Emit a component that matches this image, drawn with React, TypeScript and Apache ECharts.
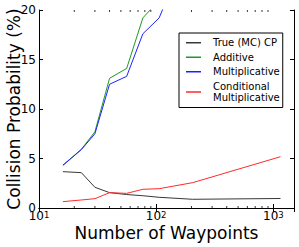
import React, { useEffect, useRef } from "react";
import * as echarts from "echarts";

const waypoints = [16, 23, 30, 40, 56, 77, 106, 205, 1150];
const trueCP = [3.67, 3.57, 2.09, 1.55, 1.36, 1.24, 1.08, 0.88, 0.96];
const additive = [4.34, 5.93, 7.7, 13.1, 14.1, 19.2, 21.0, null, null];
const multiplicative = [4.3, 5.9, 7.5, 12.5, 13.3, 17.6, 19.2, 27.4, null];
const conditional = [0.64, 0.81, 0.94, 1.55, 1.48, 1.89, 1.95, 2.56, 5.18];
const seriesNames = ["True (MC) CP", "Additive", "Multiplicative", "Conditional\nMultiplicative"];
const yTicks = [0, 5, 10, 15, 20];
const minorTicks = [20, 30, 40, 50, 60, 70, 80, 90, 200, 300, 400, 500, 600, 700, 800, 900];

const FONT = "DejaVu Sans";
const colors = ["#383838", "#1e9a1e", "#2020ff", "#ff2a2a"];

export default function App() {
  const ref = useRef<HTMLDivElement>(null);
  useEffect(() => {
    if (!ref.current) return;
    const chart = echarts.init(ref.current, null, { renderer: "svg" });
    const pair = (ys: (number | null)[]) =>
      waypoints.map((x, i) => (ys[i] == null ? [x, null] : [x, ys[i]]));
    const allY = [trueCP, additive, multiplicative, conditional];
    const expLabel = (v: number) => {
      const e = Math.round(Math.log10(v));
      if (Math.abs(Math.pow(10, e) - v) > 1e-6) return "";
      return "{b|10}{s|" + e + "}";
    };
    const axisCommon = {
      axisLine: { show: true, lineStyle: { color: "#000", width: 1 } },
      splitLine: { show: false },
    };
    chart.setOption({
      animation: false,
      textStyle: { fontFamily: FONT },
      grid: { left: 39, right: 5, top: 10, bottom: 39, outerBoundsMode: "none", containLabel: false },
      legend: {
        data: seriesNames,
        orient: "vertical",
        left: 179,
        top: 33,
        padding: [4, 3, 4, 7],
        itemGap: 3,
        itemWidth: 15,
        itemHeight: 1.5,
        icon: "rect",
        backgroundColor: "#fff",
        borderColor: "#000",
        borderWidth: 1,
        textStyle: { fontFamily: FONT, fontSize: 10, color: "#000", lineHeight: 11.5, padding: [0, 0, 0, 7] },
      },
      xAxis: [
        {
          type: "log",
          logBase: 10,
          min: 10,
          max: 1500,
          position: "bottom",
          name: "Number of Waypoints",
          nameLocation: "middle",
          nameGap: 16,
          nameMoveOverlap: false,
          nameTextStyle: { fontFamily: FONT, fontSize: 17, color: "#000", lineHeight: 17 },
          ...axisCommon,
          axisTick: { show: true, inside: true, length: 4, lineStyle: { color: "#000" } },
          axisLabel: {
            margin: 2,
            color: "#000",
            formatter: expLabel,
            rich: {
              b: { fontFamily: FONT, fontSize: 12, lineHeight: 12, verticalAlign: "bottom", color: "#000" },
              s: { fontFamily: FONT, fontSize: 8.5, lineHeight: 9, verticalAlign: "top", padding: [0, 0, 5, 0], color: "#000" },
            },
          },
        },
        {
          type: "log",
          logBase: 10,
          min: 10,
          max: 1500,
          position: "top",
          ...axisCommon,
          axisTick: { show: true, inside: true, length: 4, lineStyle: { color: "#000" } },
          axisLabel: { show: false },
        },
      ],
      yAxis: [
        {
          type: "value",
          min: 0,
          max: 20,
          interval: 5,
          position: "left",
          name: "Collision Probability (%)",
          nameLocation: "middle",
          nameGap: 17,
          nameMoveOverlap: false,
          nameTextStyle: { fontFamily: FONT, fontSize: 17, color: "#000" },
          ...axisCommon,
          axisTick: { show: true, inside: true, length: 4, lineStyle: { color: "#000" } },
          axisLabel: { margin: 3, color: "#000", fontFamily: FONT, fontSize: 12, lineHeight: 10, formatter: (v: number) => (yTicks.includes(v) ? String(v) : "") },
        },
        {
          type: "value",
          min: 0,
          max: 20,
          interval: 5,
          position: "right",
          ...axisCommon,
          axisTick: { show: true, inside: true, length: 4, lineStyle: { color: "#000" } },
          axisLabel: { show: false },
        },
      ],
      series: [
        ...seriesNames.map((name, i) => ({
          name,
          type: "line",
          xAxisIndex: 0,
          yAxisIndex: 0,
          data: pair(allY[i]),
          showSymbol: false,
          symbol: "none",
          connectNulls: false,
          clip: true,
          lineStyle: { color: colors[i], width: 1 },
          itemStyle: { color: colors[i] },
          z: 3,
        })),
        {
          type: "custom",
          name: "minor",
          xAxisIndex: 0,
          yAxisIndex: 0,
          silent: true,
          clip: false,
          encode: { x: 0, y: 1 },
          data: minorTicks.map((v) => [v, 0]),
          renderItem: (params: any, api: any) => {
            const v = api.value(0);
            const b = api.coord([v, 0]);
            const t = api.coord([v, 20]);
            const st = { stroke: "#000", lineWidth: 0.8 };
            return {
              type: "group",
              children: [
                { type: "line", shape: { x1: b[0], y1: b[1], x2: b[0], y2: b[1] - 2 }, style: st },
                { type: "line", shape: { x1: t[0], y1: t[1], x2: t[0], y2: t[1] + 2 }, style: st },
              ],
            };
          },
          z: 4,
        },
      ],
    });
    return () => chart.dispose();
  }, []);
  return (
    <div
      ref={ref}
      style={{ position: "fixed", left: 0, top: 0, width: 299, height: 247, background: "#fff" }}
    />
  );
}
